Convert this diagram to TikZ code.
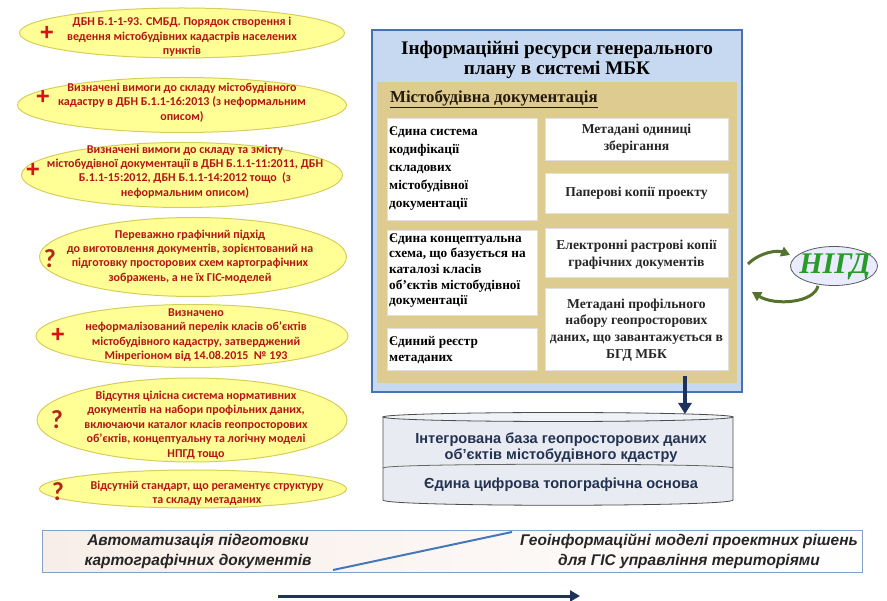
\documentclass[tikz,border=0pt]{standalone}
\usepackage{fontspec}
\setmainfont{Liberation Serif}
\newfontfamily\calfont{Carlito}
\newfontfamily\arialf{Liberation Sans}
\usetikzlibrary{shapes.geometric,arrows.meta}

\definecolor{ellfill}{RGB}{255,255,150}
\definecolor{elledge}{RGB}{215,205,90}
\definecolor{redtxt}{RGB}{180,22,22}
\definecolor{plusred}{RGB}{215,20,20}
\definecolor{qmark}{RGB}{175,40,25}
\definecolor{panelblue}{RGB}{198,217,240}
\definecolor{paneledge}{RGB}{70,115,175}
\definecolor{tanfill}{RGB}{221,203,143}
\definecolor{navy}{RGB}{31,50,95}
\definecolor{dbtxt}{RGB}{35,50,80}
\definecolor{dbfill}{RGB}{232,236,242}
\definecolor{nigdgreen}{RGB}{40,155,40}
\definecolor{arrowgreen}{RGB}{85,115,45}
\definecolor{bandfill}{RGB}{248,238,232}
\definecolor{bandedge}{RGB}{130,160,200}
\definecolor{diagblue}{RGB}{70,120,185}

\tikzset{
  ell/.style={ellipse, fill=ellfill, draw=elledge, line width=1pt, inner sep=0pt},
  etxt/.style={font=\calfont\bfseries\fontsize{12}{14.4}\selectfont, text=redtxt, align=center, inner sep=0pt},
  plusmark/.style={font=\arialf\bfseries\fontsize{24}{24}\selectfont, text=plusred, inner sep=0pt},
  qmk/.style={font=\calfont\bfseries\fontsize{26}{26}\selectfont, text=qmark, inner sep=0pt},
  wbox/.style={rectangle, fill=white, draw=black!12, line width=0.4pt, inner sep=0pt},
  ltxt/.style={font=\bfseries\fontsize{13.3}{15.6}\selectfont, align=left, anchor=west, inner sep=0pt},
  ctxt/.style={font=\bfseries\fontsize{13.6}{16.6}\selectfont, align=center, inner sep=0pt, text=black!85},
  dbtext/.style={font=\arialf\bfseries\fontsize{14.6}{16}\selectfont, text=dbtxt, align=center, inner sep=0pt},
  bandtxt/.style={font=\arialf\bfseries\itshape\fontsize{15.5}{20.5}\selectfont, text=black!85, align=center, inner sep=0pt},
  navyarrow/.style={navy, line width=3.5pt, -{Triangle[width=13pt,length=11pt]}},
  greenarrow/.style={arrowgreen, line width=3pt, -{Triangle[width=10pt,length=9pt]}}
}

\begin{document}
\begin{tikzpicture}[x=1pt,y=-1pt]
\useasboundingbox (0,0) rectangle (887,601);

% ---- left column: normative documents ----
\node[ell, minimum width=325pt, minimum height=50pt] (e1) at (182,33) {};
\node[etxt] (t1) at (182,37) {ДБН Б.1-1-93. СМБД. Порядок створення і\\ведення містобудівних кадастрів населених\\пунктів};
\node[plusmark] (m1) at (47,33) {+};

\node[ell, minimum width=329pt, minimum height=55pt] (e2) at (182,105) {};
\node[etxt] (t2) at (182,102.5) {Визначені вимоги до складу містобудівного\\кадастру в ДБН Б.1.1-16:2013 (з неформальним\\описом)};
\node[plusmark] (m2) at (43,97) {+};

\node[ell, minimum width=321pt, minimum height=65pt] (e3) at (182,175) {};
\node[etxt] (t3) at (185,171.5) {Визначені вимоги до складу та змісту\\містобудівної документації в ДБН Б.1.1-11:2011, ДБН\\Б.1.1-15:2012, ДБН Б.1.1-14:2012 тощо\ \ (з\\неформальним описом)};
\node[plusmark] (m3) at (33,170) {+};

\node[ell, minimum width=307pt, minimum height=79pt] (e4) at (193,257) {};
\node[etxt] (t4) at (190,256.5) {Переважно графічний підхід\\до виготовлення документів, зорієнтований на\\підготовку просторових схем картографічних\\зображень, а не їх ГІС-моделей};
\node[qmk] (m4) at (50,259) {?};

\node[ell, minimum width=312pt, minimum height=63pt] (e5) at (192,336) {};
\node[etxt] (t5) at (196,335) {Визначено\\неформалізований перелік класів об’єктів\\містобудівного кадастру, затверджений\\Мінрегіоном від 14.08.2015\ \ № 193};
\node[plusmark] (m5) at (58,335) {+};

\node[ell, minimum width=310pt, minimum height=84pt] (e6) at (192,420) {};
\node[etxt] (t6) at (196,425) {Відсутня цілісна система нормативних\\документів на набори профільних даних,\\включаючи каталог класів геопросторових\\об’єктів, концептуальну та логічну моделі\\НПГД тощо};
\node[qmk] (m6) at (57,420) {?};

\node[ell, minimum width=307pt, minimum height=38pt] (e7) at (193,489) {};
\node[etxt] (t7) at (207,493) {Відсутній стандарт, що регаментує структуру\\та складу метаданих};
\node[qmk] (m7) at (58,492) {?};

% ---- right panel: information resources ----
\node[rectangle, fill=panelblue, draw=paneledge, line width=2pt, minimum width=370pt, minimum height=362pt, inner sep=0pt] (panel) at (557,211) {};
\node[font=\bfseries\fontsize{19.2}{20}\selectfont, align=center, inner sep=0pt] (ptitle) at (557,60) {Інформаційні ресурси генерального\\плану в системі МБК};
\node[rectangle, fill=tanfill, minimum width=360pt, minimum height=301pt, inner sep=0pt] (tan) at (557,233) {};
\node[font=\bfseries\fontsize{16.8}{16.8}\selectfont, anchor=west, inner sep=0pt, text=black!80!brown] (doc) at (390,99) {\underline{Містобудівна документація}};

\node[wbox, minimum width=150pt, minimum height=102pt] (bA) at (462,169) {};
\node[ltxt, font=\bfseries\fontsize{13.3}{18}\selectfont] (tA) at (389,169) {Єдина система\\кодифікації\\складових\\містобудівної\\документації};
\node[wbox, minimum width=150pt, minimum height=85pt] (bB) at (462,272.5) {};
\node[ltxt] (tB) at (389,270.5) {Єдина концептуальна\\схема, що базується на\\каталозі класів\\об’єктів містобудівної\\документації};
\node[wbox, minimum width=150pt, minimum height=42pt] (bC) at (462,349) {};
\node[ltxt] (tC) at (389,350) {Єдиний реєстр\\метаданих};

\node[wbox, minimum width=183pt, minimum height=42pt] (r1) at (636.5,139) {};
\node[ctxt] (s1) at (636.5,138.5) {Метадані одиниці\\зберігання};
\node[wbox, minimum width=183pt, minimum height=40pt] (r2) at (636.5,193) {};
\node[ctxt] (s2) at (636.5,193.5) {Паперові копії проекту};
\node[wbox, minimum width=183pt, minimum height=49pt] (r3) at (636.5,252.5) {};
\node[ctxt] (s3) at (636.5,254.5) {Електронні растрові копії\\графічних документів};
\node[wbox, minimum width=183pt, minimum height=82pt] (r4) at (636.5,329) {};
\node[ctxt] (s4) at (636.5,330) {Метадані профільного\\набору геопросторових\\даних, що завантажується в\\БГД МБК};

% ---- database cylinder ----
\path[fill=dbfill, draw=black!70, line width=0.8pt]
  (383,417) -- (383,500) .. controls (383,507) and (733,507) .. (733,500) -- (733,417) -- cycle;
\draw[black!70, line width=0.8pt, fill=dbfill!70!white] (558,417) ellipse [x radius=175pt, y radius=4.5pt];
\draw[black!60, line width=0.8pt] (383,468) .. controls (383,463) and (733,463) .. (733,468);
\node[inner sep=0pt, minimum width=350pt, minimum height=90pt] (cyl) at (558,458) {};
\node[dbtext] (db1) at (561,447.5) {Інтегрована база геопросторових даних\\об’єктів містобудівного кдастру};
\node[dbtext] (db2) at (561,485) {Єдина цифрова топографічна основа};

\coordinate (a1) at (685,376);
\coordinate (a2) at (685,414);
\draw[navyarrow] (a1) -- (a2);

% ---- NIGD ----
\node[ellipse, fill=blue!8!white, draw=black!65, line width=0.8pt, minimum width=87pt, minimum height=39pt, inner sep=0pt] (nigd) at (834,266) {};
\node[font=\bfseries\itshape\fontsize{30}{30}\selectfont, text=nigdgreen, inner sep=0pt] (nigdt) at (835,267) {НІГД};
\coordinate (g1) at (748,264);
\coordinate (g3) at (752,292);
\draw[greenarrow] (g1) .. controls (760,252) and (778,250) .. (nigd.west |- 0,255);
\draw[greenarrow] (nigd.south -| 818,0) .. controls (814,303) and (775,306) .. (g3);

% ---- bottom band ----
\node[rectangle, left color=bandfill, right color=white, draw=bandedge, line width=1pt, minimum width=820pt, minimum height=42pt, inner sep=0pt] (band) at (452,552) {};
\coordinate (d1) at (333,570);
\coordinate (d2) at (512,532);
\draw[diagblue, line width=2pt] (d1) -- (d2);
\node[bandtxt] (bl) at (198,551.5) {Автоматизація підготовки\\картографічних документів};
\node[bandtxt] (br) at (689,551.5) {Геоінформаційні моделі проектних рішень\\для ГІС управління територіями};

\coordinate (b1) at (278,596);
\coordinate (b2) at (580,596);
\draw[navy, line width=3pt, -{Triangle[width=11pt,length=10pt]}] (b1) -- (b2);
\end{tikzpicture}
\end{document}
